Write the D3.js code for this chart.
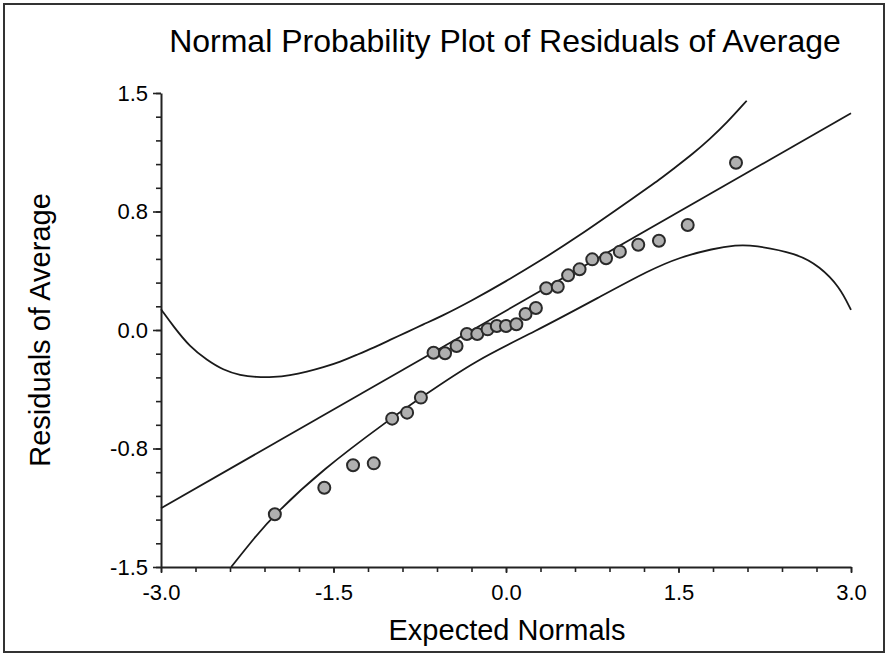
<!DOCTYPE html>
<html>
<head>
<meta charset="utf-8">
<script src="https://cdn.jsdelivr.net/npm/d3@7"></script>
<style>
  body { margin: 0; background: #fff; }
  svg { display: block; font-family: "Liberation Sans", Arial, sans-serif; }
</style>
</head>
<body>
<div id="chart"></div>
<script>
// observed points: expected normal score vs residual
const expectedNormals = [-2.01, -1.58, -1.33, -1.15, -0.99, -0.86, -0.74, -0.63, -0.53, -0.43,
  -0.34, -0.25, -0.16, -0.08, 0.0, 0.09, 0.17, 0.26, 0.35, 0.45,
  0.54, 0.64, 0.75, 0.87, 0.99, 1.15, 1.33, 1.58, 2.0];
const residuals = [-1.166, -0.998, -0.856, -0.844, -0.561, -0.523, -0.428, -0.144, -0.147, -0.101,
  -0.025, -0.025, 0.004, 0.025, 0.025, 0.036, 0.101, 0.139, 0.264, 0.274,
  0.346, 0.384, 0.447, 0.454, 0.496, 0.540, 0.565, 0.665, 1.059];

// fitted line
const fitX = [-3, 3];
const fitY = [-1.128, 1.372];

// upper band
const upperX = [-3.0, -2.89, -2.75, -2.60, -2.46, -2.31, -2.17, -2.02, -1.88, -1.73,
  -1.59, -1.44, -1.30, -1.15, -1.01, -0.86, -0.72, -0.57, -0.30, 0.0,
  0.30, 0.585, 1.165, 1.34, 1.455, 1.63, 1.774, 1.919, 2.093];
const upperY = [0.131, 0.021, -0.106, -0.19, -0.253, -0.287, -0.299, -0.299, -0.287, -0.264,
  -0.236, -0.201, -0.158, -0.112, -0.063, -0.013, 0.036, 0.084, 0.185, 0.308,
  0.44, 0.57, 0.865, 0.955, 1.02, 1.118, 1.21, 1.31, 1.451];

// lower band
const lowerX = [-2.39, -2.18, -2.01, -1.60, -1.02, -0.74, -0.26, 0.24, 0.82, 1.25,
  1.51, 1.80, 2.0, 2.15, 2.53, 2.73, 2.90, 3.0];
const lowerY = [-1.5, -1.308, -1.166, -0.886, -0.570, -0.428, -0.19, -0.015, 0.211, 0.380,
  0.460, 0.515, 0.537, 0.538, 0.485, 0.401, 0.274, 0.127];

// tick labels
const xTickValues = [-3, -1.5, 0, 1.5, 3];
const xTickLabels = ["-3.0", "-1.5", "0.0", "1.5", "3.0"];
const yTickValues = [-1.5, -0.75, 0, 0.75, 1.5];
const yTickLabels = ["-1.5", "-0.8", "0.0", "0.8", "1.5"];

const totalWidth = 889;
const totalHeight = 657;

const xScale = d3.scaleLinear().domain([-3, 3]).range([161, 851]);
const yScale = d3.scaleLinear().domain([-1.5, 1.5]).range([567, 93]);

const svg = d3.select("#chart")
  .append("svg")
  .attr("width", totalWidth)
  .attr("height", totalHeight);

// outer frame
svg.append("rect")
  .attr("x", 4).attr("y", 4)
  .attr("width", 880).attr("height", 648)
  .attr("fill", "none")
  .attr("stroke", "#333")
  .attr("stroke-width", 2);

// title
svg.append("text")
  .attr("x", 505)
  .attr("y", 52)
  .attr("text-anchor", "middle")
  .attr("font-size", 32)
  .attr("fill", "#000")
  .text("Normal Probability Plot of Residuals of Average");

// minor ticks
const xMinor = d3.range(0, 21).map(i => -3 + i * 0.3);
const yMinor = d3.range(0, 21).map(i => -1.5 + i * 0.15);

svg.append("g")
  .attr("transform", `translate(0,${yScale(-1.5)})`)
  .call(d3.axisBottom(xScale).tickValues(xMinor).tickSize(5).tickSizeOuter(0).tickFormat(""));

svg.append("g")
  .attr("transform", `translate(${xScale(-3)},0)`)
  .call(d3.axisLeft(yScale).tickValues(yMinor).tickSize(5).tickSizeOuter(0).tickFormat(""));

// labelled ticks
svg.append("g")
  .attr("transform", `translate(0,${yScale(-1.5)})`)
  .call(d3.axisBottom(xScale).tickValues(xTickValues).tickSize(6).tickSizeOuter(0).tickPadding(11)
    .tickFormat((d, i) => xTickLabels[i]))
  .call(g => g.select(".domain").remove());

svg.append("g")
  .attr("transform", `translate(${xScale(-3)},0)`)
  .call(d3.axisLeft(yScale).tickValues(yTickValues).tickSize(8).tickSizeOuter(0).tickPadding(5)
    .tickFormat((d, i) => yTickLabels[i]))
  .call(g => g.select(".domain").remove());

svg.selectAll(".domain").attr("stroke", "#222").attr("stroke-width", 2);
svg.selectAll(".tick line").attr("stroke", "#222").attr("stroke-width", 1.6);
svg.selectAll(".tick text")
  .attr("font-size", 22)
  .attr("font-family", "Liberation Sans, Arial, sans-serif")
  .attr("fill", "#000");

// axis titles
svg.append("text")
  .attr("x", 507)
  .attr("y", 640)
  .attr("text-anchor", "middle")
  .attr("font-size", 29)
  .attr("fill", "#000")
  .text("Expected Normals");

svg.append("text")
  .attr("transform", "translate(50,330) rotate(-90)")
  .attr("text-anchor", "middle")
  .attr("font-size", 29)
  .attr("fill", "#000")
  .text("Residuals of Average");

// lines
const line = d3.line()
  .x(d => xScale(d[0]))
  .y(d => yScale(d[1]))
  .curve(d3.curveBasis);

const bands = [
  d3.zip(upperX, upperY),
  d3.zip(lowerX, lowerY)
];

svg.selectAll(".band")
  .data(bands)
  .enter()
  .append("path")
  .attr("class", "band")
  .attr("d", line)
  .attr("fill", "none")
  .attr("stroke", "#1a1a1a")
  .attr("stroke-width", 1.8);

svg.append("path")
  .datum(d3.zip(fitX, fitY))
  .attr("d", d3.line().x(d => xScale(d[0])).y(d => yScale(d[1])))
  .attr("fill", "none")
  .attr("stroke", "#1a1a1a")
  .attr("stroke-width", 1.8);

// points
svg.selectAll(".pt")
  .data(d3.zip(expectedNormals, residuals))
  .enter()
  .append("circle")
  .attr("class", "pt")
  .attr("cx", d => xScale(d[0]))
  .attr("cy", d => yScale(d[1]))
  .attr("r", 6)
  .attr("fill", "#b0b0b0")
  .attr("stroke", "#2a2a2a")
  .attr("stroke-width", 2);
</script>
</body>
</html>
